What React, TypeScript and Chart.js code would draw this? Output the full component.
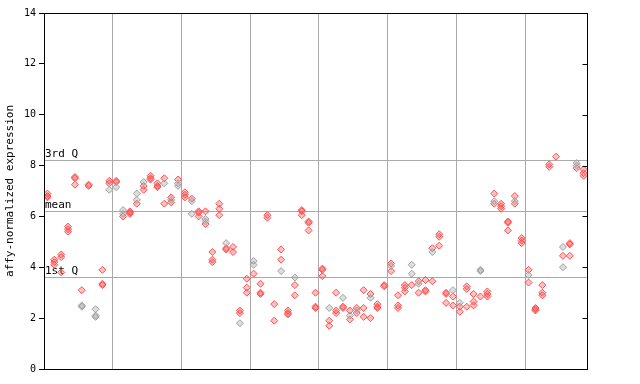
import React, { useEffect, useRef } from "react";
import { Chart, registerables } from "chart.js";

Chart.register(...registerables);

const groupCount = 79;
const yTicks = [0, 2, 4, 6, 8, 10, 12, 14];
const gridGroups = [10, 20, 30, 40, 50, 60, 70];
const quartileLabels = ["3rd Q", "mean", "1st Q"];
const quartileValues = [8.22, 6.22, 3.62];
const yTitle = "affy-normalized expression";

const redValues: number[][] = [
  [6.9, 6.8, 6.75], [4.3, 4.2, 4.1], [4.5, 4.4, 3.8], [5.6, 5.5, 5.4], [7.55, 7.5, 7.25],
  [3.1], [7.25, 7.2], [], [3.9, 3.35, 3.3], [7.4, 7.3],
  [7.4, 7.35], [6.0], [6.2, 6.15, 6.1], [6.5], [7.2, 7.05],
  [7.6, 7.5, 7.45], [7.3, 7.2, 7.15], [7.5, 6.5], [6.75, 6.55], [7.45],
  [6.95, 6.85, 6.75], [6.7], [6.2, 6.15, 6.0], [6.2, 5.7], [4.6, 4.3, 4.2],
  [6.5, 6.3, 6.05], [4.75, 4.7], [4.8, 4.6], [2.3, 2.2], [3.55, 3.2, 3.0],
  [3.75], [3.35, 2.95, 3.0], [6.05, 5.95], [2.55, 1.9], [4.7, 4.3],
  [2.3, 2.2, 2.15], [3.3, 2.9], [6.25, 6.2, 6.05], [5.8, 5.75, 5.45], [3.0, 2.45, 2.4],
  [3.95, 3.9, 3.65], [1.9, 1.7], [3.0, 2.3, 2.2], [2.45, 2.4], [2.3, 1.95],
  [2.4, 2.2], [3.1, 2.4, 2.05], [2.95, 2.0], [2.55, 2.45, 2.4], [3.3, 3.25],
  [4.15, 3.85], [2.9, 2.5, 2.4], [3.3, 3.2, 3.05], [3.3], [3.45, 3.0],
  [3.5, 3.1, 3.05], [4.75, 3.45], [5.3, 5.2, 4.85], [3.0, 2.95, 2.6], [2.85, 2.5],
  [2.45, 2.25], [3.25, 3.15, 2.45], [2.95, 2.65, 2.5], [2.85], [3.05, 2.95, 2.85],
  [6.9, 6.5], [6.5, 6.4, 6.3], [5.8, 5.75, 5.45], [6.8, 6.5], [5.15, 5.05, 4.95],
  [3.9, 3.4], [2.4, 2.35, 2.3], [3.3, 3.0, 2.9], [8.05, 7.95], [8.35],
  [4.45], [4.95, 4.9, 4.45], [7.9], [7.85, 7.7, 7.6],
];

const greyValues: number[][] = [
  [], [], [], [], [],
  [2.5, 2.45], [], [2.35, 2.1, 2.05], [], [7.05],
  [7.15], [6.25, 6.1], [], [6.9, 6.65], [7.35],
  [], [], [7.3], [6.65], [7.3, 7.2],
  [], [6.6, 6.1], [], [5.9, 5.8], [],
  [], [4.95], [], [1.8], [],
  [4.25, 4.1], [], [], [], [3.85],
  [], [3.6], [], [], [],
  [], [2.4], [], [2.8], [2.1],
  [2.3], [], [2.8], [], [],
  [4.05], [], [], [4.1, 3.75], [3.35],
  [], [4.6], [], [], [3.1],
  [2.6], [], [], [3.9, 3.85], [],
  [6.6], [], [], [6.6], [],
  [3.7], [], [], [], [],
  [4.8, 4.0], [], [8.1, 8.0], [],
];

const toPoints = (groups: number[][]) =>
  groups.flatMap((vals, i) => vals.map((v) => ({ x: i + 0.5, y: v })));

const monoFont = "'DejaVu Sans Mono', monospace";

const overlayPlugin = {
  id: "overlay",
  beforeDatasetsDraw(chart: any) {
    const { ctx, chartArea, scales } = chart;
    const y = scales.y;
    ctx.save();
    ctx.strokeStyle = "#aaaaaa";
    ctx.lineWidth = 1;
    quartileValues.forEach((v, k) => {
      const py = Math.round(y.getPixelForValue(v)) + 0.5;
      ctx.beginPath();
      ctx.moveTo(chartArea.left, py);
      ctx.lineTo(chartArea.right, py);
      ctx.stroke();
      ctx.fillStyle = "#000";
      ctx.font = "11px " + monoFont;
      ctx.textAlign = "left";
      ctx.textBaseline = "bottom";
      ctx.fillText(quartileLabels[k], chartArea.left + 1, py - 0.5);
    });
    ctx.restore();
  },
  afterDraw(chart: any) {
    const { ctx, chartArea, scales } = chart;
    const y = scales.y;
    ctx.save();
    ctx.strokeStyle = "#000";
    ctx.lineWidth = 1;
    const l = Math.round(chartArea.left) + 0.5;
    const r = Math.round(chartArea.right) + 0.5;
    const t = Math.round(chartArea.top) + 0.5;
    const b = Math.round(chartArea.bottom) + 0.5;
    ctx.strokeRect(l, t, r - l, b - t);
    yTicks.forEach((v) => {
      const py = Math.round(y.getPixelForValue(v)) + 0.5;
      ctx.beginPath();
      ctx.moveTo(r - 5, py);
      ctx.lineTo(r, py);
      ctx.stroke();
    });
    ctx.restore();
  },
};

export default function App() {
  const ref = useRef<HTMLCanvasElement | null>(null);

  useEffect(() => {
    document.body.style.margin = "0";
    if (!ref.current) return;
    const chart = new Chart(ref.current, {
      type: "scatter",
      data: {
        datasets: [
          {
            label: "grey",
            data: toPoints(greyValues),
            pointStyle: "rectRot",
            pointRadius: 3.5,
            borderWidth: 1,
            borderColor: "#a0a0a0",
            backgroundColor: "rgba(160,160,160,0.35)",
          },
          {
            label: "red",
            data: toPoints(redValues),
            pointStyle: "rectRot",
            pointRadius: 3.5,
            borderWidth: 1,
            borderColor: "#ff5050",
            backgroundColor: "rgba(255,80,80,0.35)",
          },
        ],
      },
      options: {
        animation: false,
        responsive: false,
        layout: { padding: { left: 0, right: 53, top: 13, bottom: 15 } },
        plugins: {
          legend: { display: false },
          tooltip: { enabled: false },
        },
        scales: {
          x: {
            type: "linear",
            min: 0,
            max: groupCount,
            afterBuildTicks: (scale: any) => {
              scale.ticks = gridGroups.map((v) => ({ value: v }));
            },
            ticks: { display: false },
            grid: { color: "#aaaaaa", drawTicks: false, lineWidth: 1 },
            border: { display: false },
          },
          y: {
            min: 0,
            max: 14,
            afterBuildTicks: (scale: any) => {
              scale.ticks = yTicks.map((v) => ({ value: v }));
            },
            afterFit: (scale: any) => {
              scale.width = 44;
            },
            ticks: {
              color: "#000",
              font: { family: monoFont, size: 10 },
              padding: 3,
            },
            grid: { drawOnChartArea: false, color: "#000", tickLength: 5 },
            border: { display: true, color: "#000" },
            title: {
              display: true,
              text: yTitle,
              color: "#000",
              font: { family: monoFont, size: 11 },
              padding: { top: 4, bottom: 0 },
            },
          },
        },
      },
      plugins: [overlayPlugin],
    });
    return () => chart.destroy();
  }, []);

  return <canvas ref={ref} width={640} height={384} />;
}
